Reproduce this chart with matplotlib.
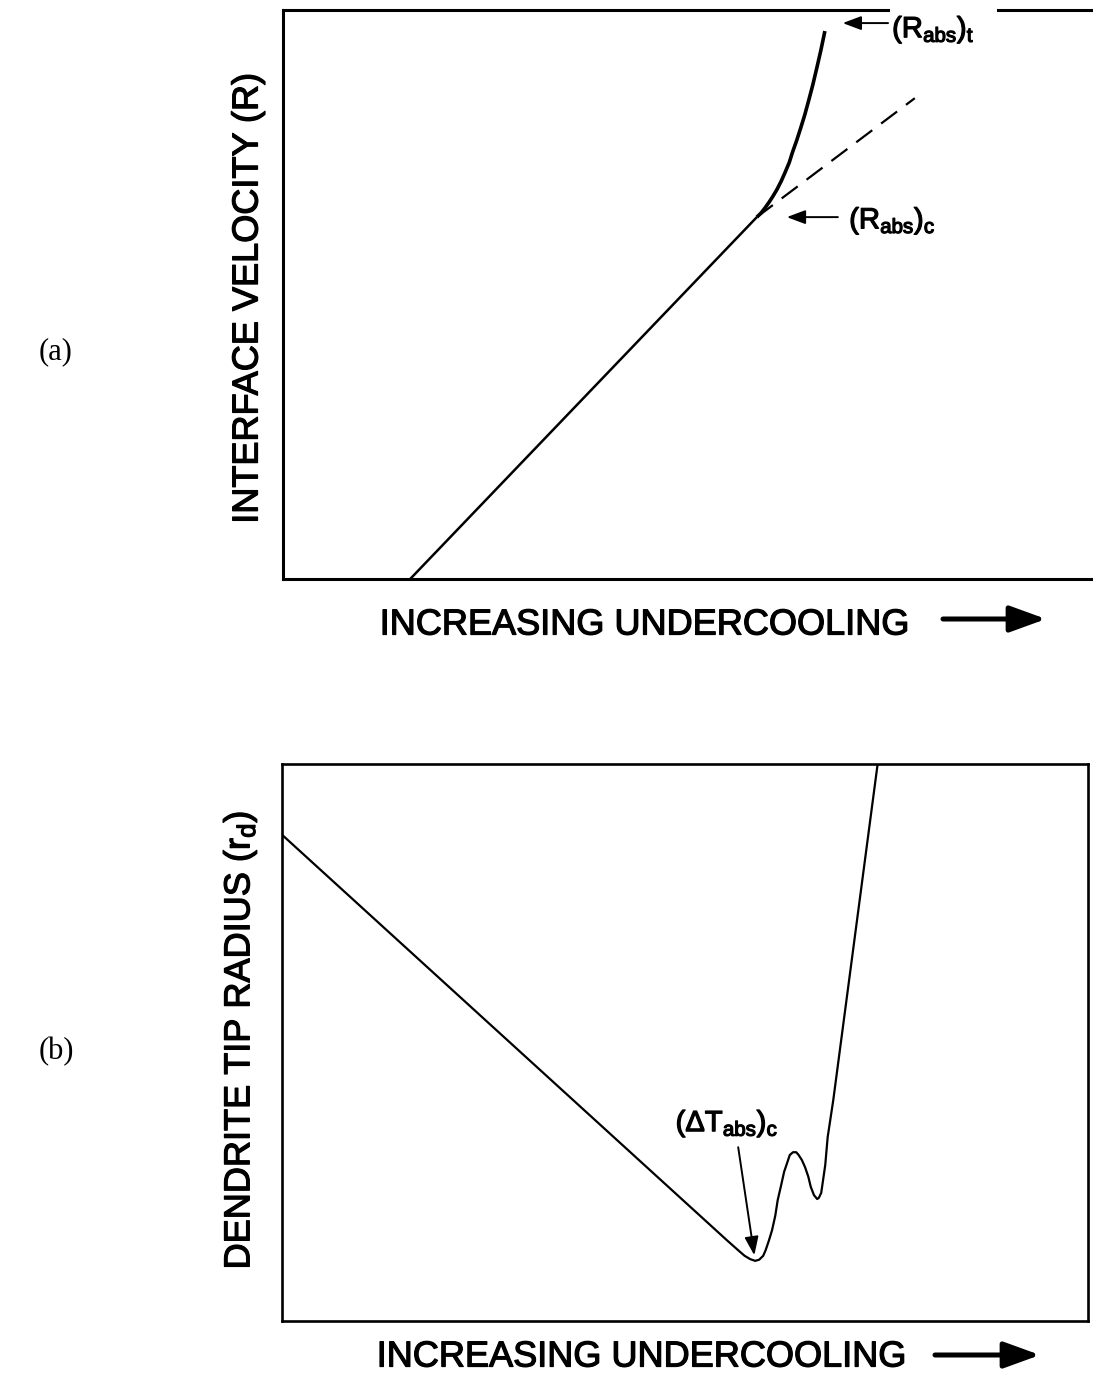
import numpy as np
import matplotlib
matplotlib.use("Agg")
from matplotlib import pyplot as plt
from matplotlib import patheffects as pe

plt.rcParams['font.family'] = ['Liberation Sans', 'DejaVu Sans']
plt.rcParams['mathtext.default'] = 'regular'

# panel (a): interface velocity vs undercooling (arbitrary units, 0-100)
lin_x = [15.7, 58.5]
lin_y = [0.0, 63.6]
curve_x = [58.5, 59.0, 59.5, 60.0, 60.5, 61.0, 61.5, 62.0, 62.5, 62.9, 63.4,
           63.9, 64.4, 64.9, 65.4, 65.9, 66.4, 66.9]
curve_y = [63.6, 64.3, 65.2, 66.2, 67.3, 68.5, 69.9, 71.5, 73.2, 75.0, 77.0,
           79.2, 81.5, 84.1, 86.8, 89.8, 92.9, 96.3]
dash_x = [58.5, 78.0]
dash_y = [63.6, 84.5]

# panel (b): dendrite tip radius vs undercooling
tip_x = [0.0, 55.2, 56.6, 57.4, 58.1, 58.7, 59.2, 59.7, 60.0, 60.4, 60.8, 61.2,
         61.5, 61.9, 62.3, 62.7, 63.0, 63.4, 63.8, 64.1, 64.5, 64.9, 65.3, 65.6,
         66.0, 66.4, 66.6, 66.9, 67.1, 67.4, 67.7, 68.4, 73.9]
tip_y = [87.3, 14.5, 12.7, 11.7, 11.1, 10.8, 11.0, 11.7, 12.7, 14.4, 16.3, 18.9,
         21.7, 24.2, 26.8, 28.5, 29.8, 30.3, 30.3, 29.8, 28.9, 27.6, 25.9, 24.1,
         22.6, 21.9, 22.1, 23.0, 25.0, 28.0, 33.0, 39.7, 100.0]

W, H = 1093, 1378
fig = plt.figure(figsize=(W / 100, H / 100), dpi=100)

heavy = [pe.withStroke(linewidth=0.9, foreground='black')]


def box(x0, y0, x1, y1):
    # pixel box (top-left origin) -> figure fraction rect
    return [x0 / W, 1 - y1 / H, (x1 - x0) / W, (y1 - y0) / H]


def fp(x, y):
    return (x / W, 1 - y / H)


# ---------------- (a) ----------------
ax1 = fig.add_axes(box(283, 10, 1093, 579))
ax1.set_xlim(0, 100)
ax1.set_ylim(0, 100)
ax1.set_xticks([])
ax1.set_yticks([])
for s in ['left', 'bottom']:
    ax1.spines[s].set_linewidth(2.2)
ax1.spines['right'].set_visible(False)
ax1.spines['top'].set_visible(False)
# top border has a gap where the label sits
ax1.plot([0, 74.7], [100, 100], color='black', lw=2.2, clip_on=False)
ax1.plot([88.3, 100], [100, 100], color='black', lw=2.2, clip_on=False)

ax1.plot(lin_x, lin_y, color='black', lw=1.8, solid_capstyle='butt')
ax1.plot(curve_x, curve_y, color='black', lw=2.6, solid_capstyle='butt',
         solid_joinstyle='round')
ax1.plot(dash_x, dash_y, color='black', lw=1.6, dashes=(9, 5))

arr = dict(arrowstyle='-|>,head_length=0.8,head_width=0.3', lw=1.4,
           color='black', mutation_scale=14, shrinkA=0, shrinkB=0)
ax1.annotate('', xy=(69.1, 97.7), xytext=(74.7, 97.7), arrowprops=arr)
ax1.text(75.2, 96.6, r'(R$_{abs}$)$_t$', fontsize=21, ha='left', va='center',
         path_effects=heavy)
ax1.annotate('', xy=(62.2, 63.6), xytext=(68.5, 63.6), arrowprops=arr)
ax1.text(69.9, 63.0, r'(R$_{abs}$)$_c$', fontsize=21, ha='left', va='center',
         path_effects=heavy)

fig.text(*fp(248, 298), 'INTERFACE VELOCITY (R)', fontsize=26,
         rotation=90, ha='center', va='center', path_effects=heavy)
fig.text(*fp(645, 625), 'INCREASING UNDERCOOLING', fontsize=26,
         ha='center', va='center', path_effects=heavy)
fig.text(*fp(56, 352), '(a)', fontsize=22, family=['Liberation Serif', 'DejaVu Serif'],
         ha='center', va='center')

big = dict(arrowstyle='-|>,head_length=1.1,head_width=0.4', lw=3.6,
           color='black', mutation_scale=20, shrinkA=0, shrinkB=0)
fig.add_artist(matplotlib.patches.FancyArrowPatch(fp(943, 619), fp(1046, 619),
                                                  transform=fig.transFigure, **big))

# ---------------- (b) ----------------
ax2 = fig.add_axes(box(282, 764, 1088, 1321))
ax2.set_xlim(0, 100)
ax2.set_ylim(0, 100)
ax2.set_xticks([])
ax2.set_yticks([])
for s in ax2.spines.values():
    s.set_linewidth(1.9)

ax2.plot(tip_x, tip_y, color='black', lw=1.6, solid_joinstyle='round')
ax2.annotate('', xy=(58.6, 11.8), xytext=(56.6, 31.2), arrowprops=arr)
ax2.text(55.2, 35.5, r'($\Delta$T$_{abs}$)$_c$', fontsize=21, ha='center', va='center',
         path_effects=heavy)

fig.text(*fp(240, 1040), r'DENDRITE TIP RADIUS (r$_d$)', fontsize=26,
         rotation=90, ha='center', va='center', path_effects=heavy)
fig.text(*fp(642, 1357), 'INCREASING UNDERCOOLING', fontsize=26,
         ha='center', va='center', path_effects=heavy)
fig.text(*fp(56, 1052), '(b)', fontsize=22, family=['Liberation Serif', 'DejaVu Serif'],
         ha='center', va='center')
fig.add_artist(matplotlib.patches.FancyArrowPatch(fp(935, 1355), fp(1040, 1355),
                                                  transform=fig.transFigure, **big))

fig.savefig('out.png', dpi=100)
